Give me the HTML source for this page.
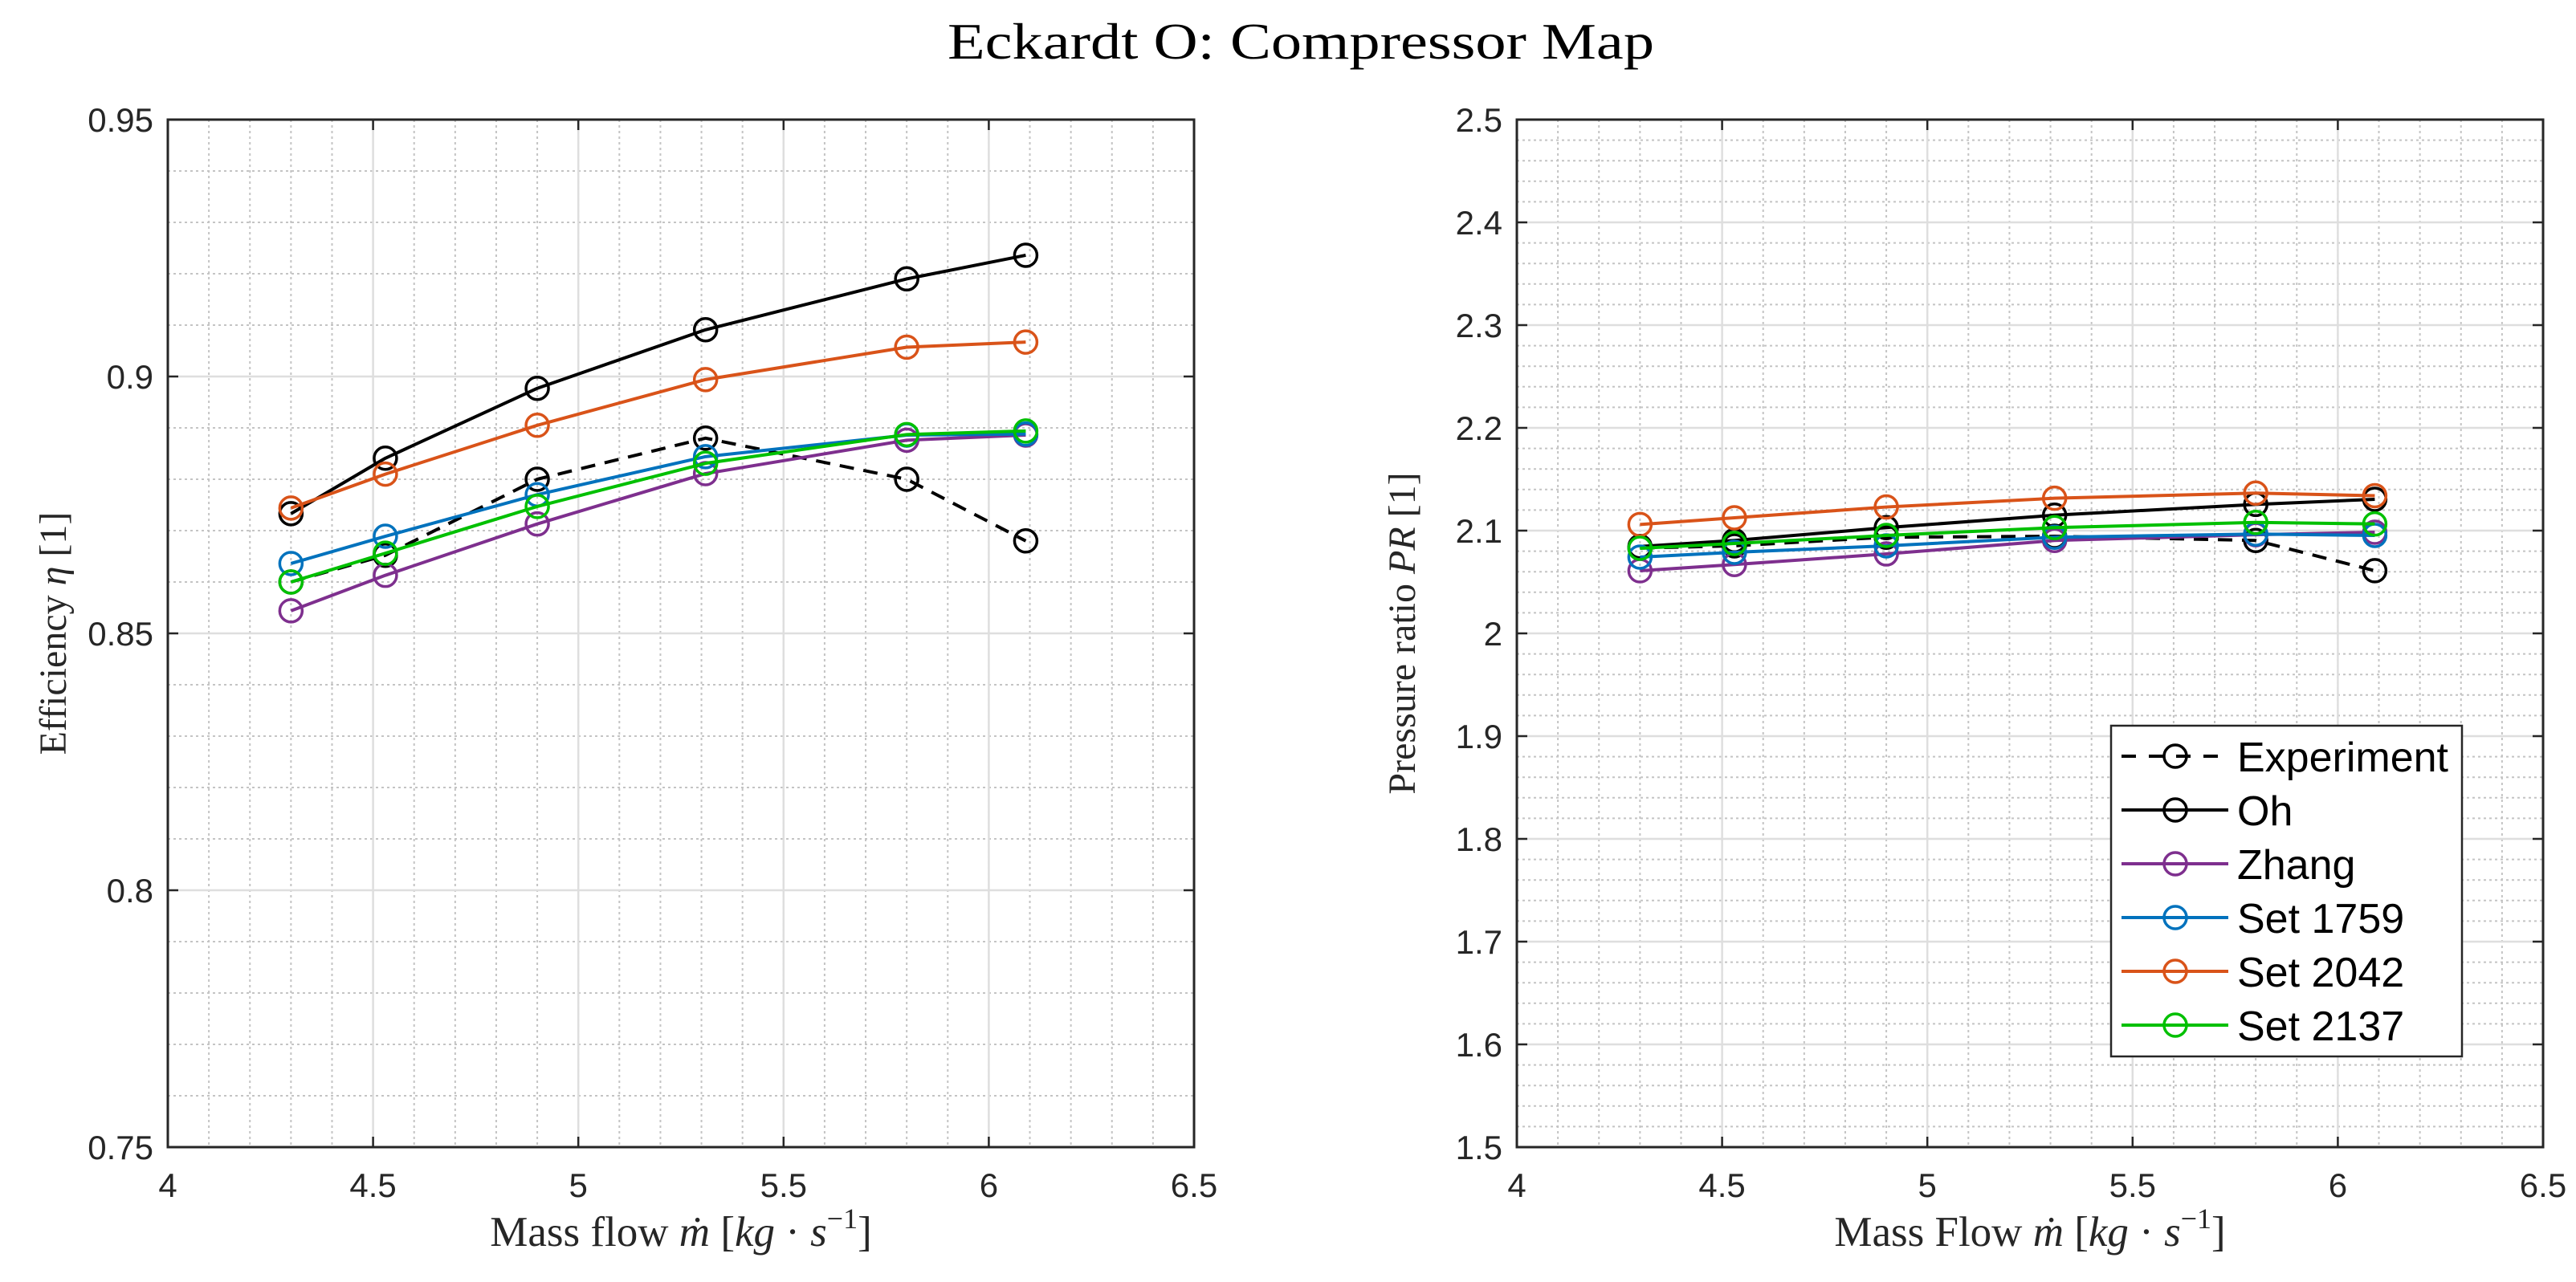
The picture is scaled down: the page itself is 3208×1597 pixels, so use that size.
<!DOCTYPE html>
<html><head><meta charset="utf-8"><style>
html,body{margin:0;padding:0;background:#fff;}
svg{display:block;}
.tick{font-family:"Liberation Sans",sans-serif;font-size:42px;fill:#262626;}
.lab{font-family:"Liberation Serif",serif;font-size:48px;fill:#262626;}
.xlab{font-family:"Liberation Serif",serif;font-size:53px;fill:#262626;}
.leg{font-family:"Liberation Sans",sans-serif;font-size:52px;fill:#000;}
</style></head><body>
<svg id="fig" width="3208" height="1597" viewBox="0 0 3208 1597" xmlns="http://www.w3.org/2000/svg">
<rect width="3208" height="1597" fill="#fff"/>
<text x="1620" y="73" text-anchor="middle" font-family="Liberation Serif,serif" font-size="64" fill="#000" textLength="880" lengthAdjust="spacingAndGlyphs">Eckardt O: Compressor Map</text>
<g id="left"></g>
<g id="right"></g>
<text class="xlab" x="848" y="1552" text-anchor="middle">Mass flow <tspan font-style="italic">ṁ</tspan> [<tspan font-style="italic">kg</tspan> · <tspan font-style="italic">s</tspan><tspan dy="-22" font-size="36">−1</tspan><tspan dy="22">]</tspan></text>
<text class="xlab" x="2528" y="1552" text-anchor="middle">Mass Flow <tspan font-style="italic">ṁ</tspan> [<tspan font-style="italic">kg</tspan> · <tspan font-style="italic">s</tspan><tspan dy="-22" font-size="36">−1</tspan><tspan dy="22">]</tspan></text>
<text class="lab" transform="translate(82,789) rotate(-90)" text-anchor="middle">Efficiency <tspan font-style="italic">η</tspan> [1]</text>
<text class="lab" transform="translate(1762,789) rotate(-90)" text-anchor="middle">Pressure ratio <tspan font-style="italic">PR</tspan> [1]</text>
</svg>
<script>
const massFlow = [4.3, 4.53, 4.9, 5.31, 5.8, 6.09];
const seriesNames = ["Experiment", "Oh", "Zhang", "Set 1759", "Set 2042", "Set 2137"];
const effExperiment = [0.860, 0.8652, 0.880, 0.888, 0.880, 0.868];
const effOh = [0.8733, 0.8841, 0.8977, 0.9091, 0.919, 0.9236];
const effZhang = [0.8544, 0.8613, 0.8713, 0.8811, 0.8876, 0.8886];
const eff1759 = [0.8636, 0.8689, 0.877, 0.8844, 0.8886, 0.8888];
const eff2042 = [0.8744, 0.881, 0.8905, 0.8994, 0.9057, 0.9067];
const eff2137 = [0.860, 0.8656, 0.8747, 0.8831, 0.8887, 0.8894];
const prExperiment = [2.083, 2.0852, 2.0936, 2.0945, 2.0904, 2.061];
const prOh = [2.0846, 2.0904, 2.1029, 2.115, 2.1255, 2.1305];
const prZhang = [2.0609, 2.067, 2.0773, 2.0904, 2.096, 2.0984];
const pr1759 = [2.0742, 2.0789, 2.0852, 2.0936, 2.0967, 2.0953];
const pr2042 = [2.106, 2.1125, 2.123, 2.1315, 2.1365, 2.134];
const pr2137 = [2.0828, 2.0875, 2.0953, 2.1029, 2.108, 2.1065];
const xTicks = ["4", "4.5", "5", "5.5", "6", "6.5"];
const effTicks = ["0.75", "0.8", "0.85", "0.9", "0.95"];
const prTicks = ["1.5", "1.6", "1.7", "1.8", "1.9", "2", "2.1", "2.2", "2.3", "2.4", "2.5"];

const colors = ["#000000", "#000000", "#7E2F8E", "#0072BD", "#D95319", "#00C000"];
const NS = "http://www.w3.org/2000/svg";
function mk(tag, attrs, parent) {
  const e = document.createElementNS(NS, tag);
  for (const k in attrs) e.setAttribute(k, attrs[k]);
  parent.appendChild(e);
  return e;
}

function drawChart(g, x0, y0, w, h, xmin, xmax, ymin, ymax, yMinorStep, yTickLabels, seriesList, pfx) {
  const sx = v => x0 + (v - xmin) / (xmax - xmin) * w;
  const sy = v => y0 + h - (v - ymin) / (ymax - ymin) * h;
  for (let v = xmin; v <= xmax + 1e-9; v += 0.1) {
    const l = mk("line", {x1: sx(v), x2: sx(v), y1: y0, y2: y0 + h, stroke: "#c4c4c4", "stroke-width": 2, "stroke-dasharray": "3,4"}, g);
    
    
  }
  for (let v = ymin; v <= ymax + 1e-9; v += yMinorStep) {
    const l = mk("line", {x1: x0, x2: x0 + w, y1: sy(v), y2: sy(v), stroke: "#c4c4c4", "stroke-width": 2, "stroke-dasharray": "3,4"}, g);
    
    
  }
  xTicks.forEach(t => {
    const v = parseFloat(t), X = sx(v);
    const l = mk("line", {x1: X, x2: X, y1: y0, y2: y0 + h, stroke: "#dedede", "stroke-width": 2.5}, g);
    
    
    mk("line", {x1: X, x2: X, y1: y0 + h, y2: y0 + h - 13, stroke: "#262626", "stroke-width": 2.5}, g);
    mk("line", {x1: X, x2: X, y1: y0, y2: y0 + 13, stroke: "#262626", "stroke-width": 2.5}, g);
    const tx = mk("text", {x: X, y: y0 + h + 62, "text-anchor": "middle", class: "tick"}, g);
    tx.textContent = t;
    
    
  });
  yTickLabels.forEach(t => {
    const v = parseFloat(t), Y = sy(v);
    const l = mk("line", {x1: x0, x2: x0 + w, y1: Y, y2: Y, stroke: "#dedede", "stroke-width": 2.5}, g);
    
    
    mk("line", {x1: x0, x2: x0 + 13, y1: Y, y2: Y, stroke: "#262626", "stroke-width": 2.5}, g);
    mk("line", {x1: x0 + w, x2: x0 + w - 13, y1: Y, y2: Y, stroke: "#262626", "stroke-width": 2.5}, g);
    const tx = mk("text", {x: x0 - 18, y: Y + 15, "text-anchor": "end", class: "tick"}, g);
    tx.textContent = t;
    
    
  });
  seriesList.forEach((vals, i) => {
    const sg = mk("g", {}, g);
    
    
    const pts = vals.map((v, j) => sx(massFlow[j]) + "," + sy(v)).join(" ");
    const pl = mk("polyline", {points: pts, fill: "none", stroke: colors[i], "stroke-width": 4, "stroke-linejoin": "round"}, sg);
    if (i === 0) pl.setAttribute("stroke-dasharray", "18,12");
    
    
    vals.forEach((v, j) => {
      const c = mk("circle", {cx: sx(massFlow[j]), cy: sy(v), r: 14, fill: "none", stroke: colors[i], "stroke-width": 3.5}, sg);
      
      
    });
  });
  const box = mk("rect", {x: x0, y: y0, width: w, height: h, fill: "none", stroke: "#262626", "stroke-width": 3}, g);
  
  
}

drawChart(document.getElementById("left"), 209, 149, 1278, 1280, 4, 6.5, 0.75, 0.95, 0.01, effTicks,
  [effExperiment, effOh, effZhang, eff1759, eff2042, eff2137], "eff");
drawChart(document.getElementById("right"), 1889, 149, 1278, 1280, 4, 6.5, 1.5, 2.5, 0.02, prTicks,
  [prExperiment, prOh, prZhang, pr1759, pr2042, pr2137], "pr");

const svg = document.getElementById("fig");
const lg = mk("g", {}, svg);


mk("rect", {x: 2629, y: 904, width: 437, height: 412, fill: "#fff", stroke: "#262626", "stroke-width": 2.5}, lg);
seriesNames.forEach((n, i) => {
  const Y = 942 + i * 67;
  const eg = mk("g", {}, lg);
  
  
  const ln = mk("line", {x1: 2642, x2: 2775, y1: Y, y2: Y, stroke: colors[i], "stroke-width": 4}, eg);
  if (i === 0) ln.setAttribute("stroke-dasharray", "18,16");
  mk("circle", {cx: 2709, cy: Y, r: 14, fill: "none", stroke: colors[i], "stroke-width": 3.5}, eg);
  const t = mk("text", {x: 2786, y: Y + 19, class: "leg"}, eg);
  t.textContent = n;
});
</script>
</body></html>
